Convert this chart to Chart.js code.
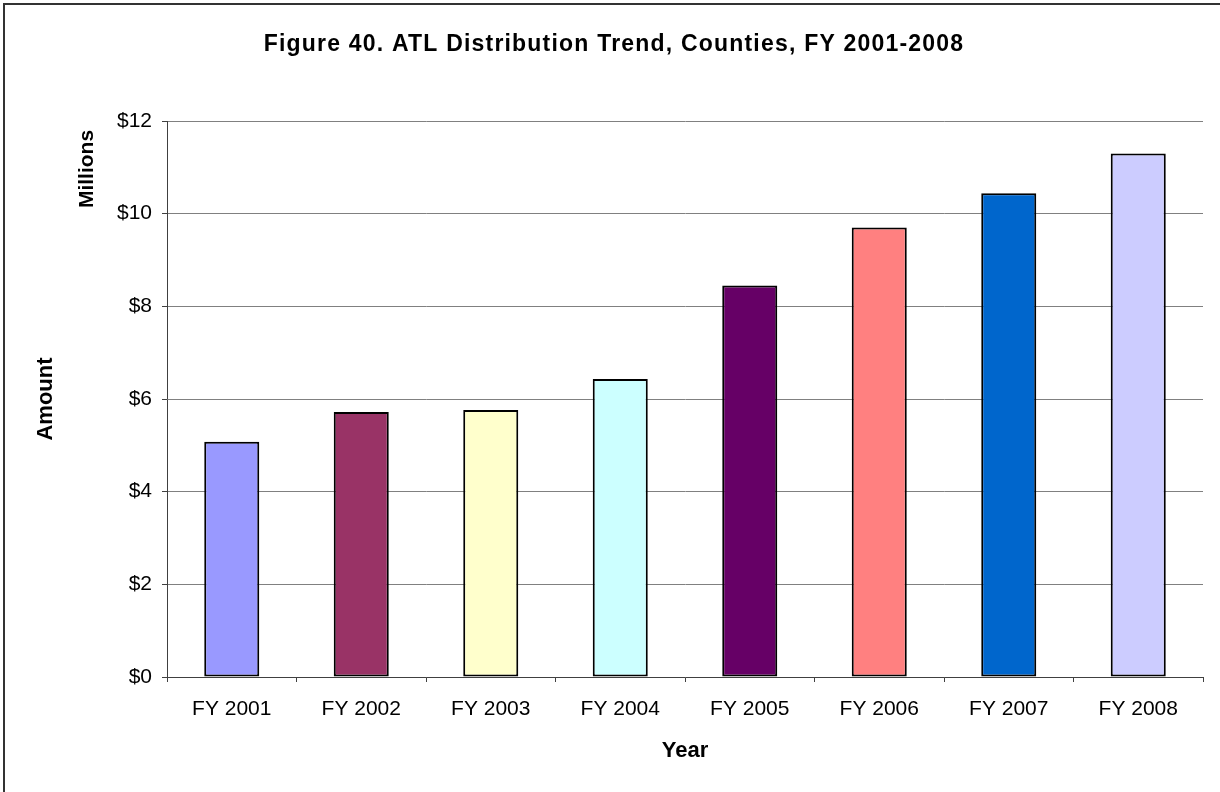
<!DOCTYPE html>
<html lang="en">
<head>
    <meta charset="UTF-8">
    <title>Figure 40. ATL Distribution Trend, Counties, FY 2001-2008</title>
    <script src="https://cdn.jsdelivr.net/npm/chart.js"></script>
    <style>
        * { margin: 0; padding: 0; box-sizing: border-box; }
        body { background: #fff; width: 1220px; height: 792px; overflow: hidden; }
        .frame {
            position: absolute;
            left: 3px; top: 3px;
            width: 1230px; height: 800px;
            border-left: 2px solid #333;
            border-top: 2px solid #333;
            pointer-events: none;
        }
        #chart { position: absolute; left: 0; top: 0; }
    </style>
</head>
<body>
    <canvas id="chart" width="1220" height="792"></canvas>
    <div class="frame"></div>

    <script>
        // Data
        const years = ['FY 2001', 'FY 2002', 'FY 2003', 'FY 2004', 'FY 2005', 'FY 2006', 'FY 2007', 'FY 2008'];
        const amounts = [5.08, 5.72, 5.76, 6.43, 8.45, 9.70, 10.44, 11.30];
        const barColors = ['#9999FF', '#993366', '#FFFFCC', '#CCFFFF', '#660066', '#FF8080', '#0066CC', '#CCCCFF'];
        const yMax = 12;
        const yStep = 2;

        const FONT = "'Liberation Sans', Arial, sans-serif";

        // Title and "Millions" label
        const extraText = {
            id: 'extraText',
            afterDraw(chart) {
                const ctx = chart.ctx;
                ctx.save();
                ctx.fillStyle = '#000';
                ctx.textAlign = 'center';
                ctx.textBaseline = 'middle';
                ctx.font = 'bold 23px ' + FONT;
                ctx.letterSpacing = '1.2px';
                ctx.fillText('Figure 40. ATL Distribution Trend, Counties, FY 2001-2008', 614, 45);
                ctx.letterSpacing = '0px';
                ctx.font = 'bold 21px ' + FONT;
                ctx.translate(87, 169);
                ctx.rotate(-Math.PI / 2);
                ctx.fillText('Millions', 0, 0);
                ctx.restore();
            }
        };

        new Chart(document.getElementById('chart'), {
            type: 'bar',
            data: {
                labels: years,
                datasets: [{
                    data: amounts,
                    backgroundColor: barColors,
                    borderColor: '#000',
                    borderWidth: 2,
                    borderSkipped: false,
                    categoryPercentage: 1,
                    barPercentage: 0.425
                }]
            },
            options: {
                responsive: false,
                animation: false,
                layout: { padding: { left: 23, right: 17, top: 121, bottom: 28 } },
                plugins: {
                    legend: { display: false },
                    tooltip: { enabled: false }
                },
                scales: {
                    x: {
                        grid: { drawOnChartArea: false, tickLength: 5, color: '#404040' },
                        border: { color: '#404040', width: 1 },
                        ticks: { color: '#000', font: { family: FONT, size: 21 }, padding: 15, maxRotation: 0 },
                        title: { display: true, text: 'Year', color: '#000', font: { family: FONT, size: 22, weight: 'bold' }, padding: 0 },
                        afterFit(scale) { scale.height = 87; }
                    },
                    y: {
                        min: 0,
                        max: yMax,
                        ticks: {
                            stepSize: yStep,
                            color: '#000',
                            font: { family: FONT, size: 21 },
                            padding: 10,
                            callback: v => '$' + v
                        },
                        grid: { color: '#808080', tickColor: '#404040', tickLength: 5 },
                        border: { color: '#404040', width: 1 },
                        title: { display: true, text: 'Amount', color: '#000', font: { family: FONT, size: 22, weight: 'bold' }, padding: { top: 10, bottom: 0 } },
                        afterFit(scale) { scale.width = 144; }
                    }
                }
            },
            plugins: [extraText]
        });
    </script>
</body>
</html>
